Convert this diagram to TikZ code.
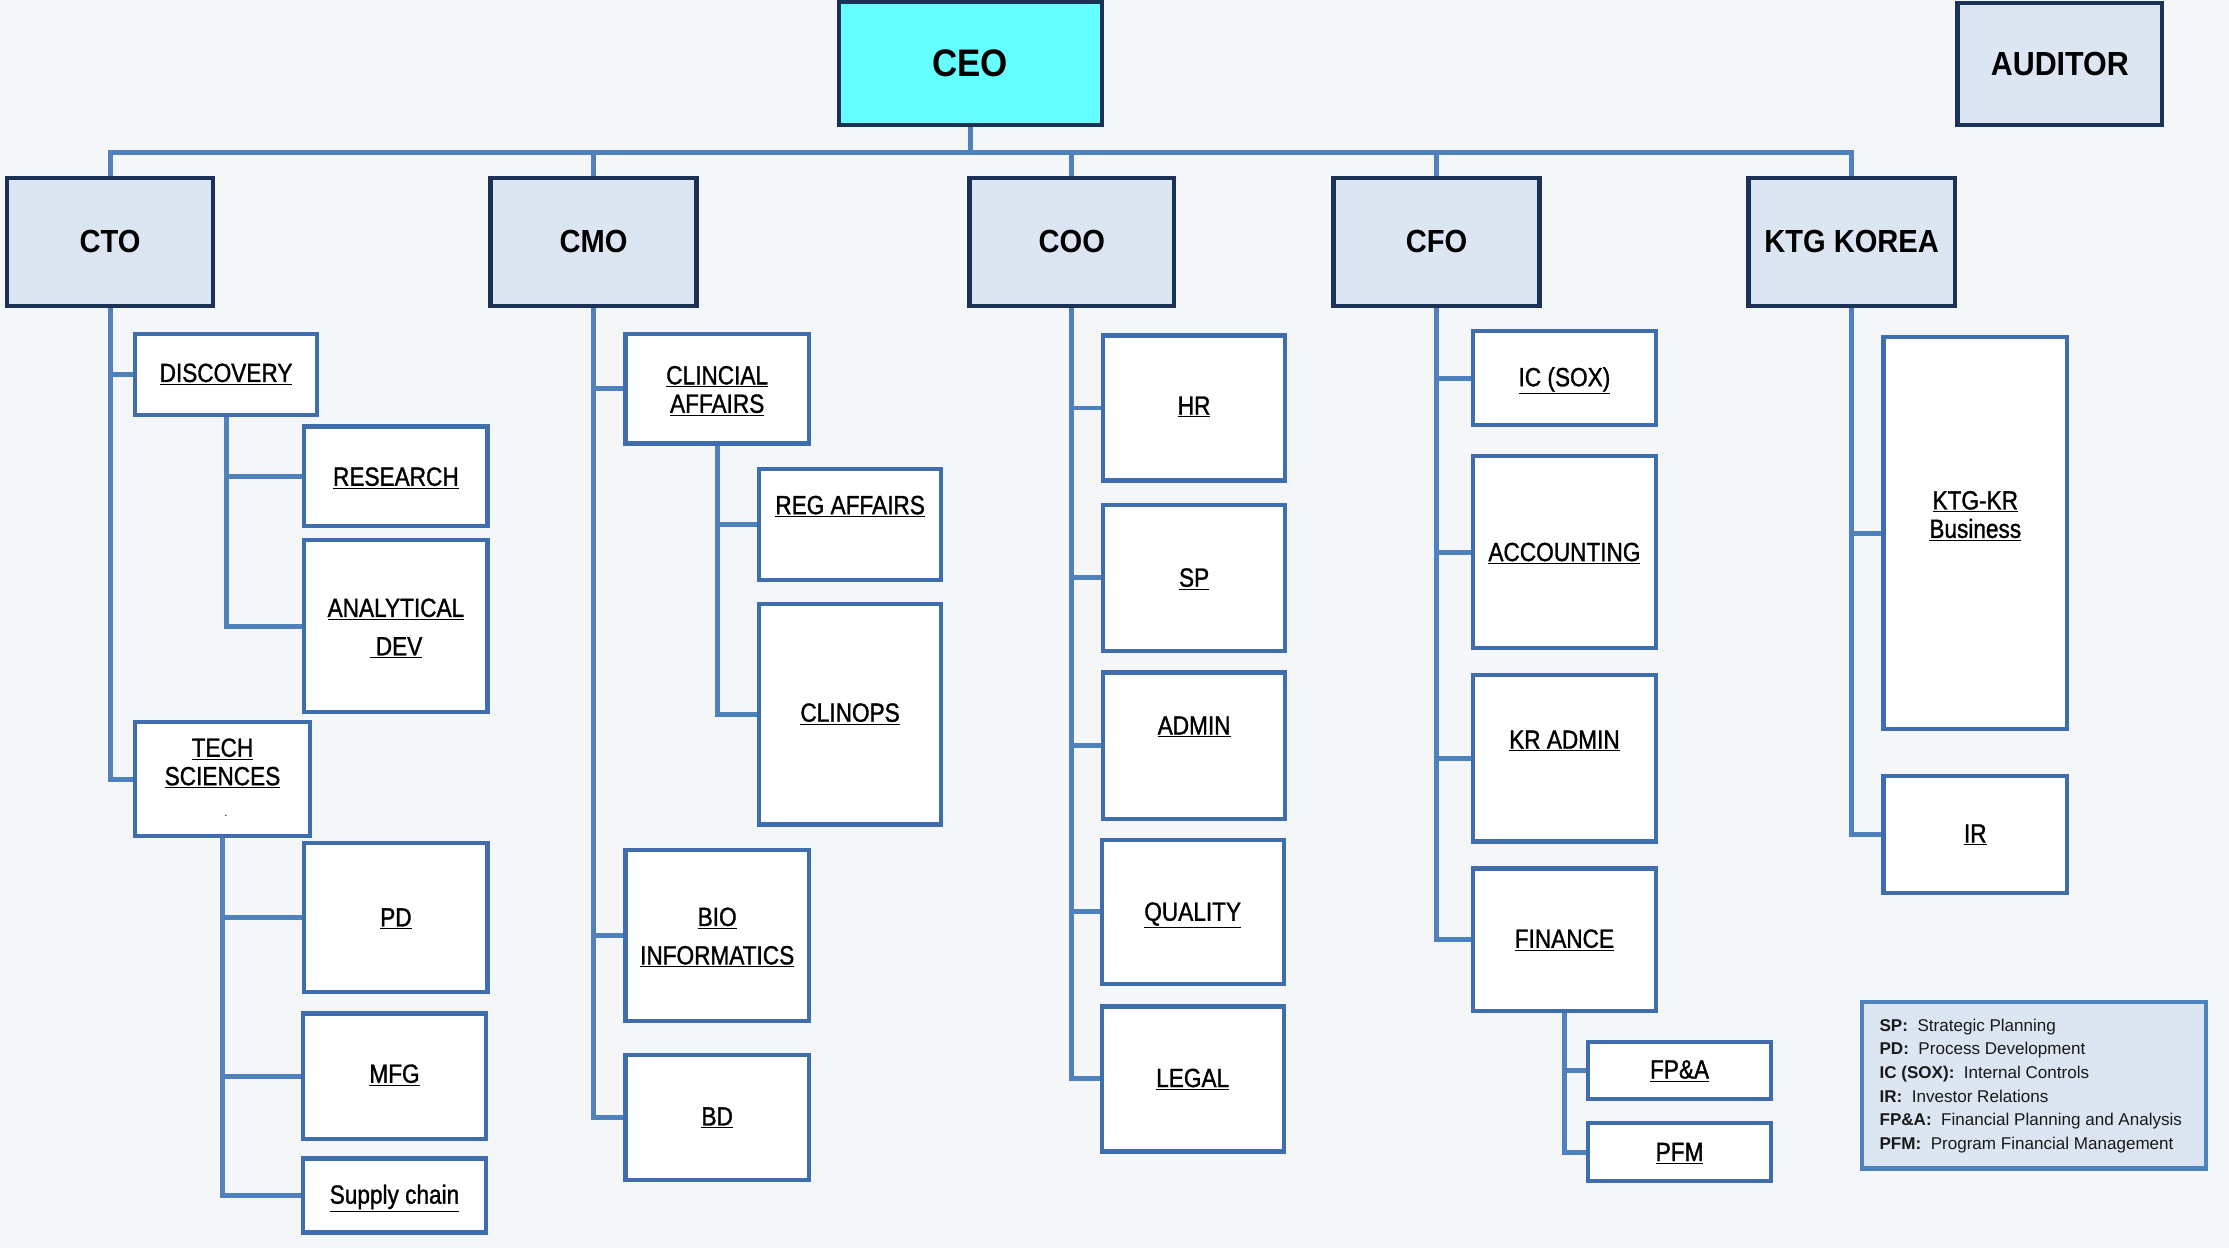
\documentclass[tikz,border=0pt]{standalone}
\usepackage{fontspec}
\setmainfont{Liberation Sans}
\newfontfamily\labfont[FakeStretch=0.86,FakeBold=1.2]{Liberation Sans}
\newfontfamily\topfont[FakeStretch=0.91]{Liberation Sans}
\usetikzlibrary{backgrounds}
\definecolor{bgc}{HTML}{F4F6F8}
\definecolor{linec}{HTML}{4F81BD}
\definecolor{cborder}{HTML}{3F6DAE}
\definecolor{navy}{HTML}{1B3256}
\definecolor{topfill}{HTML}{DCE6F2}
\definecolor{ceofill}{HTML}{66FFFF}
\tikzset{
  conn/.style={draw=linec, line width=3.5pt},
  childbox/.style={draw=cborder, fill=white, line width=3pt, inner sep=0pt, outer sep=0pt},
  topbox/.style={draw=navy, fill=topfill, line width=3pt, inner sep=0pt, outer sep=0pt,
    font=\topfont\bfseries\fontsize{22.5}{24}\selectfont},
  ceobox/.style={topbox, fill=ceofill, font=\topfont\bfseries\fontsize{27}{28}\selectfont},
  labtext/.style={font=\labfont\fontsize{18.5}{20}\selectfont, align=center, inner sep=0pt},
  legbox/.style={draw=linec, fill=topfill, line width=3pt, inner sep=0pt},
  legtext/.style={font=\fontsize{12}{16.6}\selectfont, align=left, inner sep=0pt, text=black!90}
}
% single-line child box: name, x1, y1, x2, y2, text-centre y, text
\newcommand\cbox[7]{%
  \node[childbox, minimum width={(#4-#2)*1pt}, minimum height={(#5-#3)*1pt}] (#1) at ({(#2+#4)/2},{(#3+#5)/2}) {};
  \node[labtext, anchor=base] (#1-t) at ({(#2+#4)/2},{#6+6.7}) {#7};}
% multi-line child box
\newcommand\cboxm[7]{%
  \node[childbox, minimum width={(#4-#2)*1pt}, minimum height={(#5-#3)*1pt}] (#1) at ({(#2+#4)/2},{(#3+#5)/2}) {};
  \node[labtext, anchor=center] (#1-t) at ({(#2+#4)/2},{#6+2}) {#7};}
\begin{document}
\begin{tikzpicture}[x=1pt, y=-1pt]
\useasboundingbox (0,0) rectangle (1568,878);
% top
\node[ceobox, minimum width=185pt, minimum height=87pt] (ceo) at (682.5,44.5) {CEO};
\node[topbox, minimum width=144pt, minimum height=86pt, font=\topfont\bfseries\fontsize{23.5}{25}\selectfont] (aud) at (1449,45) {AUDITOR};
\node[topbox, minimum width=145pt, minimum height=90pt] (cto) at (77.5,170) {CTO};
\node[topbox, minimum width=145pt, minimum height=90pt] (cmo) at (417.5,170) {CMO};
\node[topbox, minimum width=144pt, minimum height=90pt] (coo) at (754,170) {COO};
\node[topbox, minimum width=145pt, minimum height=90pt] (cfo) at (1010.5,170) {CFO};
\node[topbox, minimum width=145pt, minimum height=90pt] (kor) at (1302.5,170) {KTG KOREA};
\coordinate (bus) at (683,107);
% CTO
\cbox{disc}{95}{235}{223}{292}{262}{\underline{DISCOVERY}}
\cbox{res}{214}{300}{343}{370}{335}{\underline{RESEARCH}}
\cboxm{anal}{214}{380}{343}{501}{440}{\underline{ANALYTICAL}\\[7pt]\underline{\ DEV}}
\cboxm{ts}{95}{508}{218}{588}{535}{\underline{TECH}\\\underline{SCIENCES}}
\node[inner sep=0pt, font=\fontsize{8}{8}\selectfont] (ts-dot) at (159,574) {.};
\cbox{pd}{214}{593}{343}{698}{645}{\underline{PD}}
\cbox{mfg}{213}{713}{342}{801}{755}{\underline{MFG}}
\cbox{sup}{213}{815}{342}{867}{840}{\underline{Supply chain}}
% CMO
\cboxm{clin}{440}{235}{569}{312}{273}{\underline{CLINCIAL}\\\underline{AFFAIRS}}
\cbox{reg}{534}{330}{662}{408}{355}{\underline{REG AFFAIRS}}
\cbox{clinops}{534}{425}{662}{580}{501}{\underline{CLINOPS}}
\cboxm{bio}{440}{598}{569}{718}{657.5}{\underline{BIO}\\[7pt]\underline{INFORMATICS}}
\cbox{bd}{440}{742}{569}{830}{785}{\underline{BD}}
% COO
\cbox{hr}{776}{236}{904}{338}{285}{\underline{HR}}
\cbox{sp}{776}{355}{904}{458}{406}{\underline{SP}}
\cbox{admin}{776}{473}{904}{576}{510}{\underline{ADMIN}}
\cbox{qual}{775}{591}{903}{692}{641}{\underline{QUALITY}}
\cbox{legal}{775}{708}{903}{810}{758}{\underline{LEGAL}}
% CFO
\cbox{ic}{1036}{233}{1165}{299}{265}{\underline{IC (SOX)}}
\cbox{acc}{1036}{321}{1165}{456}{388}{\underline{ACCOUNTING}}
\cbox{kradm}{1036}{475}{1165}{592}{520}{\underline{KR ADMIN}}
\cbox{fin}{1036}{611}{1165}{711}{660}{\underline{FINANCE}}
\cbox{fpa}{1117}{733}{1246}{773}{752}{\underline{FP\&A}}
\cbox{pfm}{1117}{790}{1246}{831}{810}{\underline{PFM}}
% KTG KOREA
\cboxm{ktgkr}{1325}{237}{1454}{513}{361}{\underline{KTG-KR}\\\underline{Business}}
\cbox{ir}{1325}{546}{1454}{628}{586}{\underline{IR}}
% legend
\node[legbox, minimum width=242pt, minimum height=117pt] (leg) at (1431,763.5) {};
\node[legtext, anchor=north west] (leg-t) at (1322,716.5) {%
\textbf{SP:}\ \ Strategic Planning\\
\textbf{PD:}\ \ Process Development\\
\textbf{IC (SOX):}\ \ Internal Controls\\
\textbf{IR:}\ \ Investor Relations\\
\textbf{FP\&A:}\ \ Financial Planning and Analysis\\
\textbf{PFM:}\ \ Program Financial Management};
\begin{pgfonlayer}{background}
\fill[bgc] (0,0) rectangle (1568,878);
% bus
\draw[conn] (ceo.south) -- (ceo.south |- bus);
\draw[conn] (cto.north) |- (bus) -| (kor.north);
\draw[conn] (cmo.north |- bus) -- (cmo.north);
\draw[conn] (coo.north |- bus) -- (coo.north);
\draw[conn] (cfo.north |- bus) -- (cfo.north);
% CTO
\draw[conn] (cto.south) |- (ts.west);
\draw[conn] (cto.south |- disc.west) -- (disc.west);
\draw[conn] (disc.south) |- (anal.west);
\draw[conn] (disc.south |- res.west) -- (res.west);
\draw[conn] (ts.south) |- (sup.west);
\draw[conn] (ts.south |- pd.west) -- (pd.west);
\draw[conn] (ts.south |- mfg.west) -- (mfg.west);
% CMO
\draw[conn] (cmo.south) |- (bd.west);
\draw[conn] (cmo.south |- clin.west) -- (clin.west);
\draw[conn] (cmo.south |- bio.west) -- (bio.west);
\draw[conn] (clin.south) |- (clinops.west);
\draw[conn] (clin.south |- reg.west) -- (reg.west);
% COO
\draw[conn] (coo.south) |- (legal.west);
\draw[conn] (coo.south |- hr.west) -- (hr.west);
\draw[conn] (coo.south |- sp.west) -- (sp.west);
\draw[conn] (coo.south |- admin.west) -- (admin.west);
\draw[conn] (coo.south |- qual.west) -- (qual.west);
% CFO
\draw[conn] (cfo.south) |- (fin.west);
\draw[conn] (cfo.south |- ic.west) -- (ic.west);
\draw[conn] (cfo.south |- acc.west) -- (acc.west);
\draw[conn] (cfo.south |- kradm.west) -- (kradm.west);
\draw[conn] (fin.south) |- (pfm.west);
\draw[conn] (fin.south |- fpa.west) -- (fpa.west);
% KTG KOREA
\draw[conn] (kor.south) |- (ir.west);
\draw[conn] (kor.south |- ktgkr.west) -- (ktgkr.west);
\end{pgfonlayer}
\end{tikzpicture}
\end{document}
